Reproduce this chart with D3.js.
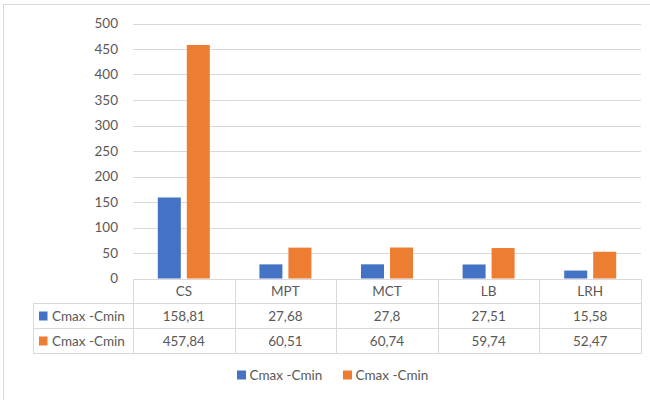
<!DOCTYPE html>
<html>
<head>
<meta charset="utf-8">
<script src="https://cdn.jsdelivr.net/npm/d3@7"></script>
<style>
  html, body { margin: 0; padding: 0; background: #fff; }
  svg { display: block; }
  text { font-family: Lato, "Open Sans", sans-serif; fill: #595959; }
</style>
</head>
<body>
<svg id="chart" width="650" height="400"></svg>
<script>
// Categories and the two series
const categories = ["CS", "MPT", "MCT", "LB", "LRH"];
const seriesNames = ["Cmax -Cmin", "Cmax -Cmin"];
const seriesA = [158.81, 27.68, 27.8, 27.51, 15.58];
const seriesB = [457.84, 60.51, 60.74, 59.74, 52.47];
const seriesLabelsA = ["158,81", "27,68", "27,8", "27,51", "15,58"];
const seriesLabelsB = ["457,84", "60,51", "60,74", "59,74", "52,47"];
const yTicks = [0, 50, 100, 150, 200, 250, 300, 350, 400, 450, 500];
const colors = ["#4472C4", "#ED7D31"];

const series = [seriesA, seriesB];
const seriesLabels = [seriesLabelsA, seriesLabelsB];

const svg = d3.select("#chart");
const grid = "#d9d9d9";

// Outer chart-area frame
svg.append("rect")
  .attr("x", 3.5).attr("y", 4.5)
  .attr("width", 660).attr("height", 420)
  .attr("fill", "none").attr("stroke", grid);

const plotLeft = 133, plotRight = 641;
const x0 = d3.scaleBand().domain(categories).range([plotLeft, plotRight]).padding(0);
const groupPad = 24.8;
const x1 = d3.scaleBand().domain([0, 1])
  .range([groupPad, x0.bandwidth() - groupPad])
  .paddingInner(0.207).paddingOuter(0);
const y = d3.scaleLinear().domain([0, 500]).range([278.5, 23.5]);

// Horizontal gridlines
svg.append("g").selectAll("line").data(yTicks).join("line")
  .attr("x1", plotLeft).attr("x2", plotRight)
  .attr("y1", d => Math.round(y(d)) + 0.5).attr("y2", d => Math.round(y(d)) + 0.5)
  .attr("stroke", grid).attr("stroke-width", 1);

// Y axis labels
const yAxis = d3.axisLeft(y).tickValues(yTicks).tickSize(0).tickPadding(0);
const yg = svg.append("g").attr("transform", "translate(118,0)").call(yAxis);
yg.select(".domain").remove();
yg.selectAll("text")
  .attr("font-size", "13.5px")
  .style("font-family", "Lato, 'Open Sans', sans-serif")
  .attr("fill", "#595959");

// Bars
series.forEach((vals, si) => {
  svg.append("g").selectAll("rect").data(vals).join("rect")
    .attr("x", (d, i) => x0(categories[i]) + x1(si))
    .attr("width", x1.bandwidth())
    .attr("y", d => y(d))
    .attr("height", d => y(0) - y(d))
    .attr("fill", colors[si]);
});

// Data table below the plot
const rowTop = 279, headerBottom = 303.5, rowH = 25;
const tableLeft = 33.5;
const tg = svg.append("g");
// column separators in the header row and the body
const colEdges = categories.map(c => x0(c)).concat([plotRight]);
colEdges.forEach(xe => {
  tg.append("line")
    .attr("x1", Math.round(xe) + 0.5).attr("x2", Math.round(xe) + 0.5)
    .attr("y1", rowTop).attr("y2", headerBottom + 2 * rowH)
    .attr("stroke", grid);
});
// left edge of the series-name column
tg.append("line")
  .attr("x1", tableLeft).attr("x2", tableLeft)
  .attr("y1", headerBottom).attr("y2", headerBottom + 2 * rowH)
  .attr("stroke", grid);
// horizontal rules
[0, 1, 2].forEach(r => {
  tg.append("line")
    .attr("x1", tableLeft).attr("x2", plotRight + 0.5)
    .attr("y1", headerBottom + r * rowH).attr("y2", headerBottom + r * rowH)
    .attr("stroke", grid);
});
// axis baseline
tg.append("line")
  .attr("x1", plotLeft).attr("x2", plotRight + 0.5)
  .attr("y1", 279.5).attr("y2", 279.5).attr("stroke", grid);

// Category headers
tg.selectAll("text.cat").data(categories).join("text")
  .attr("class", "cat")
  .attr("x", d => x0(d) + x0.bandwidth() / 2)
  .attr("y", 296)
  .attr("text-anchor", "middle")
  .attr("font-size", "13.5px")
  .text(d => d);

// Value rows
seriesLabels.forEach((labels, si) => {
  const cy = headerBottom + si * rowH + rowH / 2;
  tg.append("g").selectAll("text").data(labels).join("text")
    .attr("x", (d, i) => x0(categories[i]) + x0.bandwidth() / 2)
    .attr("y", cy + 5)
    .attr("text-anchor", "middle")
    .attr("font-size", "13.5px")
    .text(d => d);
  tg.append("rect")
    .attr("x", 39).attr("y", cy - 4.5)
    .attr("width", 8.5).attr("height", 9)
    .attr("fill", colors[si]);
  tg.append("text")
    .attr("x", 52).attr("y", cy + 5)
    .attr("font-size", "13.5px")
    .text(seriesNames[si]);
});

// Legend
const legendX = [237, 343];
seriesNames.forEach((name, si) => {
  svg.append("rect")
    .attr("x", legendX[si]).attr("y", 370.5)
    .attr("width", 9).attr("height", 9)
    .attr("fill", colors[si]);
  svg.append("text")
    .attr("x", legendX[si] + 12.5).attr("y", 380)
    .attr("font-size", "13.5px")
    .text(name);
});
</script>
</body>
</html>
